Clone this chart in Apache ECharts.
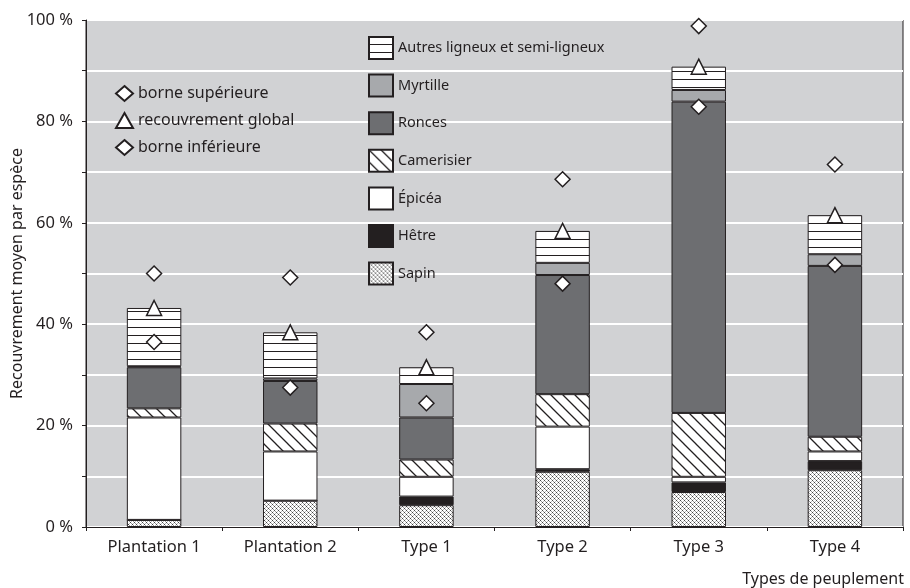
<!DOCTYPE html>
<html><head><meta charset="utf-8">
<script src="https://cdn.jsdelivr.net/npm/echarts@6/dist/echarts.min.js"></script>
<style>html,body{margin:0;padding:0;background:#fff}#c{width:910px;height:588px}</style>
</head><body><div id="c"></div>
<script>
const categories = ['Plantation 1', 'Plantation 2', 'Type 1', 'Type 2', 'Type 3', 'Type 4'];
const sapin      = [1.4, 5.2, 4.3, 10.9, 6.9, 11.2];
const hetre      = [0, 0, 1.7, 0.5, 1.9, 1.8];
const epicea     = [20.2, 9.7, 3.9, 8.4, 1.1, 1.9];
const camerisier = [1.8, 5.5, 3.4, 6.4, 12.6, 2.9];
const ronces     = [8.1, 8.4, 8.3, 23.5, 61.4, 33.7];
const myrtille   = [0.2, 0.5, 6.6, 2.4, 2.3, 2.3];
const autres     = [11.5, 9.1, 3.3, 6.3, 4.6, 7.7];
const global     = [43.2, 38.4, 31.5, 58.4, 90.8, 61.5];
const borneSup   = [50.0, 49.2, 38.4, 68.6, 98.8, 71.5];
const borneInf   = [36.5, 27.5, 24.4, 48.0, 82.9, 51.7];
const yTicks = [0, 20, 40, 60, 80, 100];

const INK = '#231f20';
const FONT = 'Noto Sans';

function pat(w, h, draw) {
  const c = document.createElement('canvas');
  c.width = w; c.height = h;
  const g = c.getContext('2d');
  g.fillStyle = '#fff'; g.fillRect(0, 0, w, h);
  draw(g);
  return { image: c, repeat: 'repeat' };
}
const hLines = pat(8, 8, g => { g.fillStyle = INK; g.fillRect(0, 7, 8, 1.3); });
const diag = pat(12, 12, g => {
  g.strokeStyle = INK; g.lineWidth = 1.3;
  g.beginPath(); g.moveTo(-1, -1); g.lineTo(13, 13);
  g.moveTo(-1, 11); g.lineTo(1, 13); g.moveTo(11, -1); g.lineTo(13, 1); g.stroke();
});
const dots = pat(4, 4, g => {
  g.fillStyle = '#444'; g.fillRect(0, 0, 1, 1); g.fillRect(2, 2, 1, 1);
  g.fillStyle = '#999'; g.fillRect(1, 1, 1, 1); g.fillRect(3, 3, 1, 1);
  g.fillStyle = '#bbb'; g.fillRect(3, 1, 1, 1); g.fillRect(1, 3, 1, 1);
});

function bar(name, data, color) {
  return { name, type: 'bar', stack: 's', data, barWidth: '40%',
    itemStyle: { color, borderColor: INK, borderWidth: 1 } };
}
function marker(name, data, symbol) {
  return { name, type: 'scatter', data, symbol, symbolSize: 15, z: 10,
    itemStyle: { color: '#fff', borderColor: INK, borderWidth: 1.5, opacity: 1 } };
}

const chart = echarts.init(document.getElementById('c'));
chart.setOption({
  animation: false,
  textStyle: { fontFamily: FONT, color: INK },
  grid: { left: 86, right: 7, top: 20, bottom: 61, containLabel: false, outerBoundsMode: 'none',
    show: true, backgroundColor: '#d1d2d4', borderColor: INK, borderWidth: 1 },
  title: { text: 'Types de peuplement', right: 6, top: 571, padding: 0,
    textStyle: { fontFamily: FONT, fontSize: 16, fontWeight: 'normal', color: INK } },
  legend: [
    { orient: 'vertical', left: 110, top: 80, itemWidth: 17, itemHeight: 15, itemGap: 10,
      data: ['borne supérieure', 'recouvrement global', 'borne inférieure'],
      textStyle: { fontFamily: FONT, fontSize: 16, lineHeight: 16, color: INK } },
    { orient: 'vertical', left: 363, top: 31, itemWidth: 24, itemHeight: 22, itemGap: 13.6, icon: 'rect',
      data: ['Autres ligneux et semi-ligneux', 'Myrtille', 'Ronces', 'Camerisier', 'Épicéa', 'Hêtre', 'Sapin'],
      textStyle: { fontFamily: FONT, fontSize: 14.5, lineHeight: 16, color: INK } }
  ],
  xAxis: { type: 'category', data: categories,
    axisLine: { lineStyle: { color: INK, width: 1 } },
    axisTick: { show: true, length: 4, lineStyle: { color: INK } },
    axisLabel: { fontFamily: FONT, fontSize: 16.5, color: INK, margin: 12 } },
  yAxis: { type: 'value', min: 0, max: 100, interval: 10,
    name: 'Recouvrement moyen par espèce', nameLocation: 'middle', nameGap: 69, nameMoveOverlap: false,
    nameTextStyle: { fontFamily: FONT, fontSize: 16, color: INK, verticalAlign: 'middle' },
    axisLine: { show: true, lineStyle: { color: INK, width: 1 } },
    axisTick: { show: true, length: 4, lineStyle: { color: INK } },
    axisLabel: { fontFamily: FONT, fontSize: 16.5, color: INK, margin: 13,
      formatter: v => yTicks.includes(v) ? v + ' %' : '' },
    splitLine: { lineStyle: { color: '#ffffff', width: 2 } } },
  series: [
    bar('Sapin', sapin, dots),
    bar('Hêtre', hetre, INK),
    bar('Épicéa', epicea, '#ffffff'),
    bar('Camerisier', camerisier, diag),
    bar('Ronces', ronces, '#6d6e71'),
    bar('Myrtille', myrtille, '#a7a9ac'),
    bar('Autres ligneux et semi-ligneux', autres, hLines),
    marker('borne supérieure', borneSup, 'diamond'),
    marker('recouvrement global', global, 'triangle'),
    marker('borne inférieure', borneInf, 'diamond')
  ]
});
</script></body></html>
